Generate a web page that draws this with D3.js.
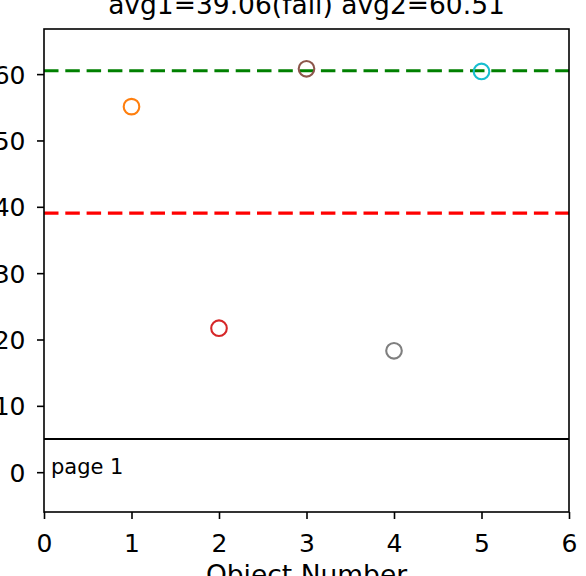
<!DOCTYPE html>
<html><head><meta charset="utf-8">
<script src="https://cdn.jsdelivr.net/npm/d3@7"></script>
<style>html,body{margin:0;padding:0;background:#fff;overflow:hidden}</style>
</head><body>
<svg id="c" width="586" height="576"></svg>
<script>
const objects = [1, 2, 3, 4, 5];
const values = [55.1, 21.7, 60.8, 18.3, 60.4];
const colors = ["#ff7f0e", "#d62728", "#8c564b", "#7f7f7f", "#17becf"];
const avg1 = 39.06, avg2 = 60.51, pageLine = 5;
const xTicks = [0, 1, 2, 3, 4, 5, 6];
const yTicks = [0, 10, 20, 30, 40, 50, 60];
const title = "avg1=39.06(fail) avg2=60.51";
const xLabel = "Object Number";
const pageText = "page 1";

const svg = d3.select("#c");
const L = 44, R = 569, T = 29, B = 512;
const font = "DejaVu Sans";
const x = d3.scaleLinear().domain([0, 6]).range([L, R]);
const y = d3.scaleLinear().domain([-6.0, 66.8]).range([B, T]);

svg.append("line").attr("x1", L).attr("x2", R).attr("y1", y(avg1)).attr("y2", y(avg1))
  .attr("stroke", "#ff0000").attr("stroke-width", 3.2).attr("stroke-dasharray", "14.5,6.8");
svg.append("line").attr("x1", L).attr("x2", R).attr("y1", y(avg2)).attr("y2", y(avg2))
  .attr("stroke", "#008000").attr("stroke-width", 3.2).attr("stroke-dasharray", "14.5,6.8");
svg.append("line").attr("x1", L).attr("x2", R).attr("y1", y(pageLine)).attr("y2", y(pageLine))
  .attr("stroke", "#000").attr("stroke-width", 2);

svg.selectAll("circle.pt").data(objects).enter().append("circle")
  .attr("cx", d => x(d)).attr("cy", (d, i) => y(values[i])).attr("r", 7.8)
  .attr("fill", "none").attr("stroke", (d, i) => colors[i]).attr("stroke-width", 2.1);

svg.append("text").attr("x", L + 7).attr("y", y(0) + 2).attr("font-family", font)
  .attr("font-size", 21).text(pageText);

svg.append("rect").attr("x", L).attr("y", T).attr("width", R - L).attr("height", B - T)
  .attr("fill", "none").attr("stroke", "#000").attr("stroke-width", 1.6);

const xa = svg.append("g").attr("transform", `translate(0,${B})`)
  .call(d3.axisBottom(x).tickValues(xTicks).tickFormat(d3.format("d")).tickSize(7));
const ya = svg.append("g").attr("transform", `translate(${L},0)`)
  .call(d3.axisLeft(y).tickValues(yTicks).tickFormat(d3.format("d")).tickSize(7));
[xa, ya].forEach(a => {
  a.select(".domain").remove();
  a.selectAll(".tick line").attr("stroke", "#000").attr("stroke-width", 1.6);
  a.selectAll(".tick text").attr("font-family", font).attr("font-size", 25).attr("fill", "#000");
});
xa.selectAll(".tick text").attr("y", 40).attr("dy", null);
ya.selectAll(".tick text").attr("x", -18.5).attr("dy", "0.36em");

svg.append("text").attr("x", (L + R) / 2).attr("y", 14).attr("text-anchor", "middle")
  .attr("font-family", font).attr("font-size", 26.5).text(title);
svg.append("text").attr("x", (L + R) / 2).attr("y", 584).attr("text-anchor", "middle")
  .attr("font-family", font).attr("font-size", 26.5).text(xLabel);
</script>
</body></html>
